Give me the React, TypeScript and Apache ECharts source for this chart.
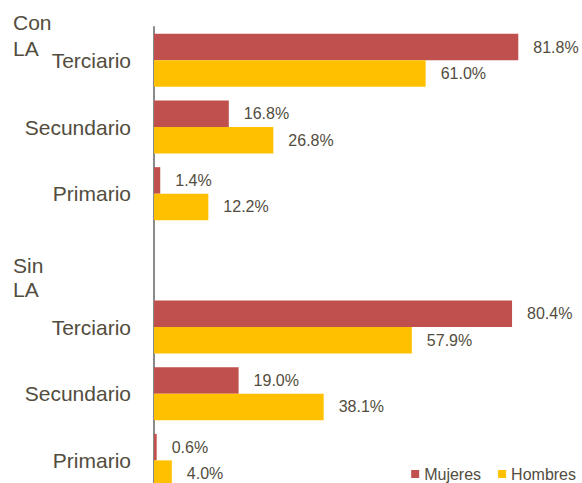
import React, { useEffect, useRef } from "react";
import * as echarts from "echarts";

const categoryLabels = ["Terciario", "Secundario", "Primario", "", "Terciario", "Secundario", "Primario"];
const categoryKeys = ["con-ter", "con-sec", "con-pri", "gap", "sin-ter", "sin-sec", "sin-pri"];
const mujeres: (number | null)[] = [81.8, 16.8, 1.4, null, 80.4, 19.0, 0.6];
const hombres: (number | null)[] = [61.0, 26.8, 12.2, null, 57.9, 38.1, 4.0];
const seriesNames = ["Mujeres", "Hombres"];

const TEXT = "#524D3E";
const FONT = "'Liberation Sans', Arial, sans-serif";

export default function App() {
  const ref = useRef<HTMLDivElement>(null);
  useEffect(() => {
    if (!ref.current) return;
    const chart = echarts.init(ref.current, null, { renderer: "svg" });
    const labelCfg = {
      show: true,
      position: "right",
      distance: 15,
      color: TEXT,
      fontSize: 16,
      fontFamily: FONT,
      formatter: (p: any) => Number(p.value).toFixed(1) + "%",
    };
    const groupText = (text: string, y: number) => ({
      type: "text",
      x: 13,
      y,
      style: { text, fontSize: 21, fill: TEXT, fontFamily: FONT, verticalAlign: "middle" },
    });
    chart.setOption({
      animation: false,
      backgroundColor: "#ffffff",
      textStyle: { fontFamily: FONT },
      grid: {
        left: 154,
        top: 27,
        width: 400.8,
        height: 466.7,
        containLabel: false,
        outerBoundsMode: "none",
      },
      xAxis: {
        type: "value",
        min: 0,
        max: 90,
        show: false,
        splitLine: { show: false },
      },
      yAxis: {
        type: "category",
        inverse: true,
        data: categoryKeys,
        axisLine: { show: true, lineStyle: { color: "#8A8A8A", width: 2 } },
        axisTick: { show: false },
        axisLabel: {
          color: TEXT,
          fontSize: 21,
          margin: 23,
          fontFamily: FONT,
          formatter: (_v: string, i: number) => categoryLabels[i],
        },
      },
      legend: {
        right: 1,
        top: 461,
        itemWidth: 8,
        itemHeight: 8,
        itemGap: 17,
        icon: "rect",
        textStyle: { color: TEXT, fontSize: 16, fontFamily: FONT },
        data: seriesNames,
      },
      series: [
        {
          name: seriesNames[0],
          type: "bar",
          data: mujeres,
          barWidth: 26.5,
          barGap: "0%",
          itemStyle: { color: "#C0504D" },
          label: labelCfg,
        },
        {
          name: seriesNames[1],
          type: "bar",
          data: hombres,
          barWidth: 26.5,
          barGap: "0%",
          itemStyle: { color: "#FFC000" },
          label: labelCfg,
        },
      ],
      graphic: [
        groupText("Con", 22),
        groupText("LA", 48),
        groupText("Sin", 265),
        groupText("LA", 289),
      ],
    });
    return () => chart.dispose();
  }, []);
  return (
    <div
      ref={ref}
      style={{ position: "fixed", left: 0, top: 0, width: 582, height: 483, background: "#fff" }}
    />
  );
}
